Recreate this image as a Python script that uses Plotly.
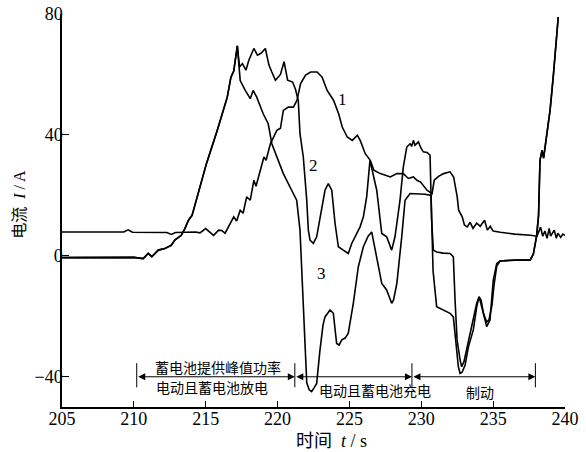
import plotly.graph_objects as go

# ---- data (time in s, current in A) ----
t1 = [205.0, 209.3, 209.6, 209.9, 212.3, 212.6, 212.9, 214.3, 214.6, 215.0, 215.3, 215.55, 215.9, 216.1,
      216.35, 216.6, 216.95, 217.15, 217.4, 217.6, 217.85, 218.1, 218.35, 218.5, 218.8, 219.05, 219.2,
      219.5, 219.95, 220.2, 220.4, 220.75, 221.1, 221.35, 221.6, 221.95, 222.3, 222.75, 223.1, 223.45,
      223.9, 224.25, 224.5, 224.85, 225.2, 225.55, 225.75, 226.1, 226.45, 226.7, 227.15, 227.85, 228.3,
      228.75, 229.1, 229.45, 229.7, 229.95, 230.4, 230.75, 230.9, 231.2, 231.55, 232.0, 232.25, 232.5,
      232.6, 232.85, 233.0, 233.2, 233.4, 233.6, 233.85, 234.1, 234.4, 234.6, 234.8, 235.0, 235.5, 236.5,
      237.6, 238.05, 238.3, 238.45, 238.6, 238.75, 238.9, 239.0, 239.25, 239.4, 239.5, 239.7, 239.85, 240.1]
i1 = [7.9, 7.9, 8.6, 7.8, 7.7, 7.1, 7.7, 7.9, 7.6, 9.0, 7.8, 6.8, 8.5, 8.4,
      7.5, 9.6, 12.9, 11.5, 15.1, 14.1, 19.5, 18.4, 25.0, 23.0, 28.3, 32.7, 31.6,
      37.1, 41.5, 42.2, 48.1, 49.2, 49.2, 51.4, 57.0, 59.8, 60.8, 60.8, 59.1, 54.7,
      51.4, 47.0, 42.6, 39.3, 38.2, 39.9, 38.2, 33.8, 31.6, 28.3, 27.2, 26.1, 27.2,
      27.2, 25.6, 26.1, 25.0, 24.4, 21.7, 20.6, 25.0, 26.3, 27.2, 27.8, 26.1, 19.5,
      15.1, 12.9, 10.2, 9.6, 11.1, 9.1, 10.8, 9.8, 11.8, 8.5, 9.8, 8.2, 7.8, 7.2,
      6.8, 6.5, 9.5, 6.5, 8.2, 5.8, 9.1, 6.5, 8.5, 5.8, 7.5, 6.1, 7.2, 6.5]

t_start = [205.0, 210.0, 210.65, 211.0, 211.25, 211.7, 212.15, 212.6, 212.85, 213.3, 213.55, 213.8,
           214.05, 214.4, 215.05, 215.8, 216.5, 216.75, 216.95, 217.2]
i_start = [-0.6, -0.5, -0.9, 0.8, -0.3, 1.9, 2.4, 3.5, 5.2, 6.8, 9.0, 11.8,
           13.4, 19.5, 30.5, 41.5, 52.5, 59.0, 61.1, 69.5]

t2_mid = [217.35, 217.55, 217.8, 218.0, 218.35, 218.6, 218.85, 219.15, 219.4, 219.6, 219.85, 220.2,
          220.45, 220.7, 221.05, 221.25, 221.44, 221.56, 221.79, 222.03, 222.14, 222.26, 222.49, 222.72,
          222.95, 223.3, 223.53, 223.77, 224.0, 224.23, 224.57, 224.92, 225.16, 225.39, 225.74, 225.97,
          226.2, 226.43, 226.9, 227.25, 227.59, 227.94, 228.17, 228.52, 228.75, 228.99, 229.22, 229.33,
          229.45, 229.56, 229.8, 229.98, 230.14, 230.4, 230.61, 230.72, 230.84, 231.07, 231.53, 232.0,
          232.23, 232.35, 232.49, 232.7, 232.81, 232.97, 233.16, 233.39, 233.62, 233.86, 234.02, 234.16,
          234.32, 234.55, 234.71, 234.92, 235.06, 235.25]
i2_mid = [62.5, 63.6, 61.4, 64.7, 68.6, 66.4, 67.0, 68.6, 63.1, 60.8, 58.1, 60.0,
          64.2, 58.1, 57.5, 55.0, 51.4, 40.4, 32.7, 18.4, 8.5, 5.2, 4.1, 6.3,
          12.9, 21.7, 23.9, 21.7, 10.7, 3.0, 1.9, 0.8, 4.1, 6.3, 9.6, 12.9,
          19.5, 31.6, 21.7, 7.4, 6.3, 1.9, 6.3, 18.4, 29.4, 36.0, 37.1, 36.2,
          38.2, 36.6, 37.7, 35.6, 34.4, 34.2, 33.3, 11.8, 1.9, 1.3, 0.9, 0.8,
          -0.3, -14.6, -27.8, -34.4, -36.7, -35.0, -31.0, -26.0, -20.6, -15.6, -13.6, -14.6,
          -18.9, -21.9, -21.2, -16.3, -9.7, -3.4]

t3_mid = [217.4, 217.75, 218.1, 218.3, 218.55, 219.0, 219.35, 219.6, 219.95, 220.4, 220.98, 221.33,
          221.56, 221.77, 222.03, 222.2, 222.37, 222.54, 222.72, 222.95, 223.16, 223.3, 223.65, 223.88,
          224.11, 224.28, 224.47, 224.7, 224.92, 225.27, 225.62, 225.97, 226.3, 226.55, 226.9, 227.25,
          227.59, 227.94, 228.07, 228.3, 228.64, 228.87, 229.22, 229.68, 230.26, 230.68, 230.82, 231.07,
          231.53, 232.0, 232.23, 232.47, 232.58, 232.7, 232.84, 233.05, 233.28, 233.62, 233.86, 234.02,
          234.19, 234.32, 234.55, 234.78, 235.01, 235.25]
i3_mid = [58.0, 54.7, 52.0, 54.7, 52.5, 47.0, 43.7, 37.1, 32.7, 27.2, 21.7, 18.4,
          8.5, -14.6, -42.0, -44.3, -44.9, -43.7, -42.2, -31.2, -22.9, -20.2, -17.9, -19.0,
          -29.0, -29.5, -27.8, -27.2, -25.6, -15.7, -3.6, 3.0, 6.5, 7.9, -0.3, -9.1,
          -11.3, -15.7, -14.6, -9.1, 6.3, 18.4, 20.6, 20.6, 20.4, 20.0, -5.0, -16.8,
          -17.9, -19.0, -20.2, -31.2, -36.7, -38.9, -38.5, -36.1, -30.1, -24.5, -16.8, -13.5,
          -16.3, -19.0, -23.4, -21.2, -8.0, -2.5]

t_end = [235.48, 236.52, 237.57, 237.8, 238.03, 238.16, 238.26, 238.4, 238.51, 238.68, 238.96,
         239.19, 239.42, 239.53]
i_end = [-1.7, -1.4, -1.4, 0.6, 6.8, 13.4, 31.6, 34.9, 32.3, 38.2, 48.1, 59.7, 71.3, 79.0]

x_ticks = [205, 210, 215, 220, 225, 230, 235, 240]
y_ticks = [-40, 0, 40, 80]

# phase markers (s) and labels
phase_bounds = [210.2, 221.2, 229.35, 237.94]
phase_top = ["蓄电池提供峰值功率"]
phase_text = ["电动且蓄电池放电", "电动且蓄电池充电", "制动"]

curve_labels = ["1", "2", "3"]
label_pos = [(224.55, 51.6), (222.47, 30.0), (223.07, -5.8)]

t2 = t_start + t2_mid + t_end
i2 = i_start + i2_mid + i_end
t3 = t_start + t3_mid + t_end
i3 = i_start + i3_mid + i_end

fig = go.Figure()
for tt, ii in [(t1, i1), (t2, i2), (t3, i3)]:
    fig.add_trace(go.Scatter(x=tt, y=ii, mode="lines",
                             line=dict(color="black", width=1.6), showlegend=False,
                             hoverinfo="skip"))

serif = "Liberation Serif"
cjk = "Noto Sans CJK SC"
mixed = "Liberation Serif, Noto Sans CJK SC"

ann = []
for lab, (lx, ly) in zip(curve_labels, label_pos):
    ann.append(dict(x=lx, y=ly, text=lab, showarrow=False, font=dict(family=serif, size=17, color="black")))

# arrows
for a, b in zip(phase_bounds[:-1], phase_bounds[1:]):
    ann.append(dict(x=b, y=-40, ax=a, ay=-40, axref="x", ayref="y", xref="x", yref="y", text="",
                    showarrow=True, arrowside="end+start", arrowhead=2, arrowsize=1.4,
                    arrowwidth=1, arrowcolor="black", standoff=0, startstandoff=0))

ann.append(dict(x=215.88, y=-36.7, text=phase_top[0], showarrow=False,
                font=dict(family=cjk, size=14, color="black")))
ann.append(dict(x=215.42, y=-43.3, text=phase_text[0], showarrow=False,
                font=dict(family=cjk, size=14, color="black")))
ann.append(dict(x=226.78, y=-44.4, text=phase_text[1], showarrow=False,
                font=dict(family=cjk, size=14, color="black")))
ann.append(dict(x=234.09, y=-44.9, text=phase_text[2], showarrow=False,
                font=dict(family=cjk, size=14, color="black")))

# axis titles
ann.append(dict(xref="paper", yref="paper", x=-0.085, y=0.515, xanchor="center", yanchor="middle",
                textangle=-90, text="电流  <i>I</i> / A", showarrow=False,
                font=dict(family=mixed, size=16, color="black")))
ann.append(dict(xref="x", yref="paper", x=223.72, y=-0.0865, xanchor="center", yanchor="middle",
                text="时间  <i>t</i> / s", showarrow=False,
                font=dict(family=mixed, size=18, color="black")))

shapes = []
for b in phase_bounds:
    shapes.append(dict(type="line", xref="x", yref="y", x0=b, x1=b, y0=-35.5, y1=-43.5,
                       line=dict(color="black", width=1)))

fig.update_layout(
    width=586, height=452,
    margin=dict(l=62, r=21, t=14, b=45, autoexpand=False),
    paper_bgcolor="white", plot_bgcolor="white",
    annotations=ann, shapes=shapes,
    xaxis=dict(range=[205, 240], tickvals=x_ticks, ticks="inside", ticklen=6, tickwidth=1,
               tickcolor="black", showline=True, linecolor="black", linewidth=1.5,
               showgrid=False, zeroline=False, automargin=False, ticklabelstandoff=-5,
               tickfont=dict(family=serif, size=18, color="black")),
    yaxis=dict(range=[-50, 80], tickvals=y_ticks, ticks="inside", ticklen=7, tickwidth=1,
               tickcolor="black", showline=True, linecolor="black", linewidth=1.5,
               showgrid=False, zeroline=False, automargin=False, ticklabelstandoff=-6,
               tickfont=dict(family=serif, size=18, color="black")),
)

fig.write_html("out.html", config={"displayModeBar": False},
               post_script="document.body.style.margin='0';document.body.style.padding='0';"
                           "document.body.style.overflow='hidden';")
